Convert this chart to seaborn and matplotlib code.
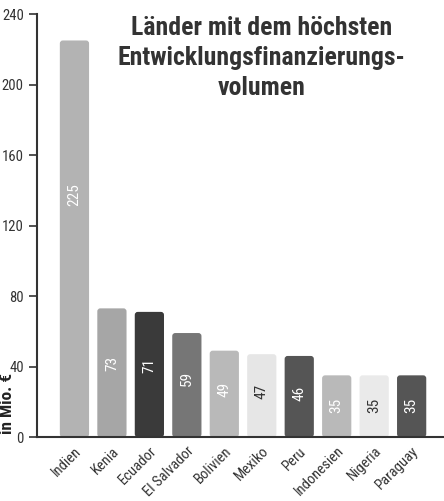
import matplotlib
matplotlib.use("Agg")
import matplotlib.pyplot as plt
import seaborn as sns
import pandas as pd
from matplotlib.patches import FancyBboxPatch

# data
laender = ["Indien", "Kenia", "Ecuador", "El Salvador", "Bolivien",
           "Mexiko", "Peru", "Indonesien", "Nigeria", "Paraguay"]
volumen = [225, 73, 71, 59, 49, 47, 46, 35, 35, 35]
farben = ["#b3b3b3", "#a6a6a6", "#3a3a3a", "#767676", "#b9b9b9",
          "#e6e6e6", "#555555", "#b9b9b9", "#eaeaea", "#555555"]
label_farben = ["white", "white", "white", "white", "white",
                "#333333", "white", "white", "#333333", "white"]
y_ticks = [0, 40, 80, 120, 160, 200, 240]

df = pd.DataFrame({"Land": laender, "Volumen": volumen})

sns.set_style("white")
plt.rcParams["font.family"] = ["Roboto Condensed", "Roboto", "DejaVu Sans"]
plt.rcParams["font.stretch"] = "condensed"

fig = plt.figure(figsize=(4.44, 5.01), dpi=100)
ax = fig.add_axes([0.0833, 0.1277, 0.9147, 0.8443])

sns.barplot(data=df, x="Land", y="Volumen", hue="Land", palette=farben,
            legend=False, width=0.78, saturation=1, ax=ax)

ax.set_xlim(-1.0, 9.84)
ax.set_ylim(0, 240)

# round the bar corners a little
x_per_px = (9.84 + 1.0) / (0.9147 * 444)
y_per_px = 240 / (0.8443 * 501)
for p in list(ax.patches):
    x0, y0 = p.get_x(), p.get_y()
    w, h = p.get_width(), p.get_height()
    fc = p.get_facecolor()
    p.remove()
    rp = FancyBboxPatch((x0, y0), w, h,
                        boxstyle="round,pad=0,rounding_size=%f" % (3 * x_per_px),
                        mutation_aspect=y_per_px / x_per_px,
                        facecolor=fc, edgecolor="none")
    ax.add_patch(rp)

# value labels inside the bars
for i, (v, c) in enumerate(zip(volumen, label_farben)):
    ax.text(i, v * 0.63 - 4, str(v), rotation=90, ha="center", va="center",
            color=c, fontsize=11)

ax.set_yticks(y_ticks)
ax.set_xlabel("")
ax.set_ylabel("")
ax.tick_params(axis="y", direction="out", length=6, width=1.2,
               color="#333333", labelsize=10.5, labelcolor="#333333", left=True)
ax.tick_params(axis="x", length=0, labelsize=10.5, labelcolor="#333333", pad=5)
plt.setp(ax.get_xticklabels(), rotation=45, ha="right", rotation_mode="anchor")

# small closing tick at the right end of the x axis
ax.set_xticks([9.84], minor=True)
ax.tick_params(axis="x", which="minor", direction="in", length=5,
               width=1.2, color="#333333")

for s in ["top", "right"]:
    ax.spines[s].set_visible(False)
for s in ["left", "bottom"]:
    ax.spines[s].set_color("#333333")
    ax.spines[s].set_linewidth(1.5)

ax.text(0.553, 0.995, "Länder mit dem höchsten\nEntwicklungsfinanzierungs-\nvolumen",
        transform=ax.transAxes, ha="center", va="top", fontsize=18.5,
        fontweight="bold", color="#333333", linespacing=1.3)

fig.text(0.0, 0.195, "in Mio. €", rotation=90, ha="left", va="center",
         fontsize=12.5, fontweight="bold", color="#222222")

fig.savefig("out.png", dpi=100)
